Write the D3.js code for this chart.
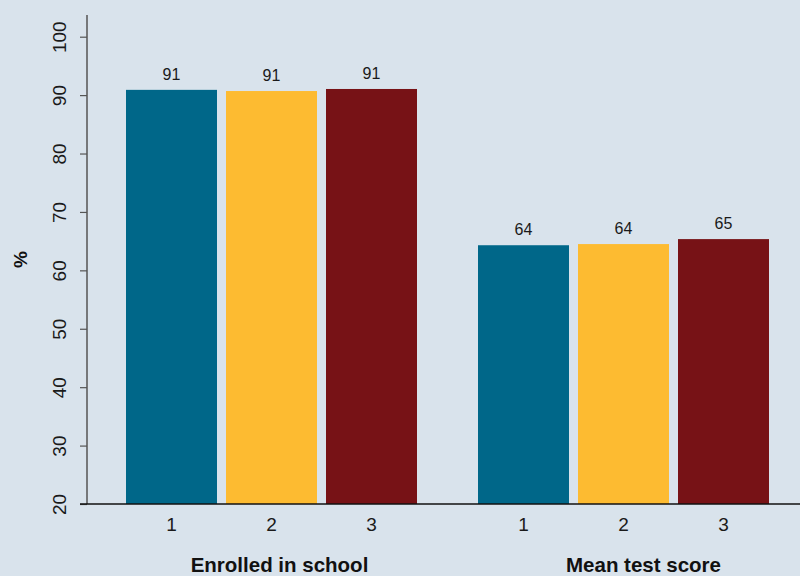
<!DOCTYPE html>
<html>
<head>
<meta charset="utf-8">
<script src="https://cdn.jsdelivr.net/npm/d3@7"></script>
<style>
  html, body { margin: 0; padding: 0; background: #d9e3ec; }
  svg { display: block; font-family: "Liberation Sans", Arial, sans-serif; }
</style>
</head>
<body>
<svg id="chart" width="800" height="576"></svg>
<script>
const groups = ["Enrolled in school", "Mean test score"];
const series = ["1", "2", "3"];
const enrolled = [90.9, 90.7, 91.05];
const testScore = [64.3, 64.5, 65.35];
const valueLabels = [["91", "91", "91"], ["64", "64", "65"]];
const yTicks = [20, 30, 40, 50, 60, 70, 80, 90, 100];
const colors = ["#006789", "#fdbb31", "#771216"];

const values = [enrolled, testScore];
const svg = d3.select("#chart");

const y = d3.scaleLinear().domain([20, 100]).range([504, 36.7]);
const x0 = d3.scaleBand().domain(groups).range([126, 769]).paddingInner(0.1733).paddingOuter(0);
const x1 = d3.scaleBand().domain(series).range([0, x0.bandwidth()]).paddingInner(0.09).paddingOuter(0);

// background
svg.append("rect").attr("width", 800).attr("height", 576).attr("fill", "#d9e3ec");

// bars
groups.forEach((g, gi) => {
  const gEl = svg.append("g").attr("transform", `translate(${x0(g)},0)`);
  series.forEach((s, si) => {
    const v = values[gi][si];
    gEl.append("rect")
      .attr("x", x1(s))
      .attr("y", y(v))
      .attr("width", x1.bandwidth())
      .attr("height", y(20) - y(v))
      .attr("fill", colors[si]);
    gEl.append("text")
      .attr("x", x1(s) + x1.bandwidth() / 2)
      .attr("y", y(v) - 10)
      .attr("text-anchor", "middle")
      .attr("font-size", 16)
      .attr("fill", "#1a1a1a")
      .text(valueLabels[gi][si]);
    gEl.append("text")
      .attr("x", x1(s) + x1.bandwidth() / 2)
      .attr("y", 531)
      .attr("text-anchor", "middle")
      .attr("font-size", 19)
      .attr("fill", "#1a1a1a")
      .text(s);
  });
});

// group labels
const groupOffsets = [8, 20];
groups.forEach((g, gi) => {
  svg.append("text")
    .attr("x", x0(g) + x0.bandwidth() / 2 + groupOffsets[gi])
    .attr("y", 572)
    .attr("text-anchor", "middle")
    .attr("font-size", 20.5)
    .attr("font-weight", "bold")
    .attr("fill", "#111")
    .text(g);
});

// y axis
const yAxis = d3.axisLeft(y).tickValues(yTicks).tickSize(7).tickPadding(0).tickFormat(d3.format("d"));
const ax = svg.append("g").attr("transform", "translate(87,0)").call(yAxis);
ax.select(".domain").remove();
ax.selectAll(".tick line").attr("stroke", "#555").attr("stroke-width", 1.2);
ax.selectAll(".tick text")
  .attr("x", null).attr("dy", null)
  .attr("transform", "translate(-21.5,0) rotate(-90)")
  .attr("text-anchor", "middle")
  .attr("font-size", 19)
  .attr("font-family", "'Liberation Sans', Arial, sans-serif")
  .attr("fill", "#1a1a1a");
svg.append("line")
  .attr("x1", 87).attr("x2", 87)
  .attr("y1", 15).attr("y2", y(20))
  .attr("stroke", "#555").attr("stroke-width", 1.5);

// baseline
svg.append("line")
  .attr("x1", 80).attr("x2", 800)
  .attr("y1", y(20)).attr("y2", y(20))
  .attr("stroke", "#111").attr("stroke-width", 1.5);

// y title
svg.append("text")
  .attr("transform", `translate(26.5,${(15 + y(20)) / 2}) rotate(-90)`)
  .attr("text-anchor", "middle")
  .attr("font-size", 19)
  .attr("font-weight", "bold")
  .attr("fill", "#111")
  .text("%");
</script>
</body>
</html>
